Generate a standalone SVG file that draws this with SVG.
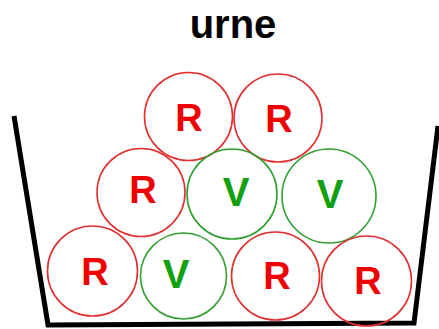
<svg xmlns="http://www.w3.org/2000/svg" width="439" height="329" viewBox="0 0 439 329">
<style>
.r circle{fill:none;stroke:#e03030;stroke-width:1.6}
.v circle{fill:none;stroke:#30a030;stroke-width:1.6}
text{font-family:"Liberation Sans",Arial,sans-serif;font-weight:bold;text-anchor:middle}
.r text{fill:#f00000;font-size:38px}
.v text{fill:#10a010;font-size:40px}
</style>
<rect width="439" height="329" fill="#fff"/>
<text x="233" y="38" font-size="40" fill="#000">urne</text>
<g id="urn"><path d="M14,116 L48,325 L414,323 L438,126" fill="none" stroke="#000" stroke-width="5" stroke-linejoin="miter"/></g>
<g id="b1" class="r"><circle cx="188.5" cy="116.5" r="44"/><text x="189" y="131">R</text></g>
<g id="b2" class="r"><circle cx="278" cy="118" r="44"/><text x="279" y="132">R</text></g>
<g id="b3" class="r"><circle cx="141" cy="192.5" r="44"/><text x="143" y="203">R</text></g>
<g id="b4" class="v"><circle cx="232" cy="194" r="45"/><text x="236" y="206">V</text></g>
<g id="b5" class="v"><circle cx="329" cy="196" r="47"/><text x="330" y="208">V</text></g>
<g id="b6" class="r"><circle cx="92.5" cy="271" r="45"/><text x="95" y="285">R</text></g>
<g id="b7" class="v"><circle cx="183.5" cy="276" r="43"/><text x="176" y="288">V</text></g>
<g id="b8" class="r"><circle cx="275.5" cy="276" r="44"/><text x="277" y="289">R</text></g>
<g id="b9" class="r"><circle cx="366.5" cy="281" r="45"/><text x="368" y="294">R</text></g>
</svg>
